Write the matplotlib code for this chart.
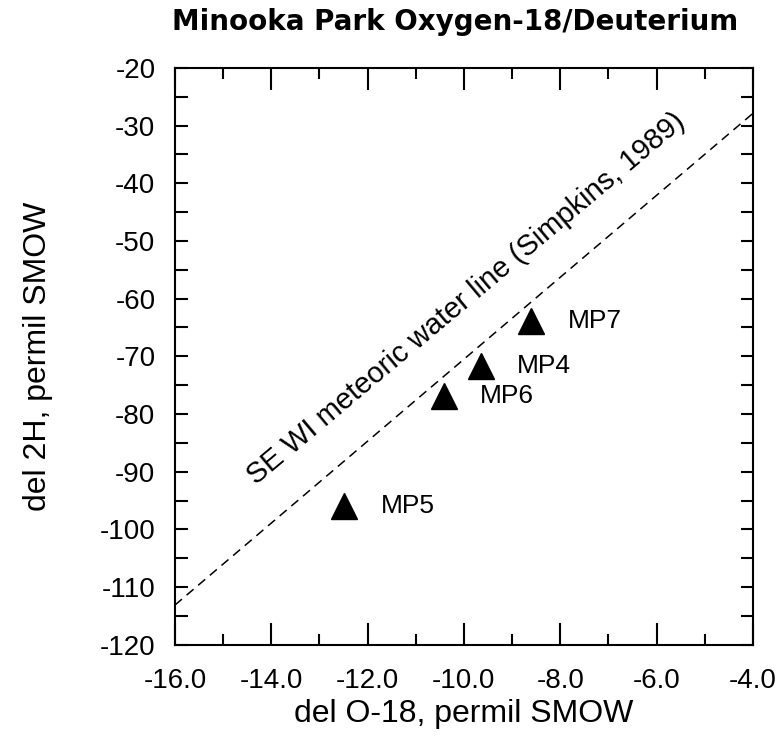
import numpy as np
import matplotlib.pyplot as plt
from matplotlib.ticker import MultipleLocator

plt.rcParams['font.family'] = ['Liberation Sans', 'DejaVu Sans']
plt.rcParams['axes.unicode_minus'] = False

# sample points, del O-18 vs del 2H (permil SMOW)
sites = ['MP7', 'MP4', 'MP6', 'MP5']
o18 = [-8.6, -9.65, -10.42, -12.48]
d2h = [-63.8, -71.6, -76.8, -95.9]

# meteoric water line endpoints (Simpkins, 1989)
mwl_x = [-16.0, -4.0]
mwl_y = [-113.1, -27.9]
mwl_label = 'SE WI meteoric water line (Simpkins, 1989)'

fig = plt.figure(figsize=(7.81, 7.37), dpi=100)
ax = fig.add_axes([0.224, 0.125, 0.74, 0.783])

ax.plot(mwl_x, mwl_y, '--', color='black', lw=1.1, dashes=(6, 4))
ax.plot(o18, d2h, '^', color='black', ms=19, ls='none')
for name, x, y in zip(sites, o18, d2h):
    ax.annotate(name, (x, y), xytext=(26, 0), textcoords='offset points',
                va='center', ha='left', fontsize=19)

ax.text(-9.95, -60.0, mwl_label, rotation=40.0, rotation_mode='anchor',
        ha='center', va='center', fontsize=21)

ax.set_xlim(-16, -4)
ax.set_ylim(-120, -20)
ax.xaxis.set_major_locator(MultipleLocator(2))
ax.xaxis.set_minor_locator(MultipleLocator(1))
ax.yaxis.set_major_locator(MultipleLocator(10))
ax.yaxis.set_minor_locator(MultipleLocator(5))
ax.set_xticks(np.arange(-16, -3, 2))
ax.set_xticklabels([f'{v:.1f}' for v in np.arange(-16, -3, 2)])
ax.tick_params(which='both', direction='in', top=True, right=True,
               labelsize=20, width=1.5)
ax.tick_params(axis='x', which='major', length=16, pad=17)
ax.tick_params(axis='x', which='minor', length=8)
ax.tick_params(axis='y', which='both', length=9, pad=14)
for s in ax.spines.values():
    s.set_linewidth(1.5)

ax.set_xlabel('del O-18, permil SMOW', fontsize=23, labelpad=3)
ax.set_ylabel('del 2H, permil SMOW', fontsize=23, labelpad=34)
fig.text(0.583, 0.97, 'Minooka Park Oxygen-18/Deuterium', ha='center',
         va='center', fontsize=20, fontweight='bold', family='DejaVu Sans')

fig.savefig('out.png', dpi=100)
